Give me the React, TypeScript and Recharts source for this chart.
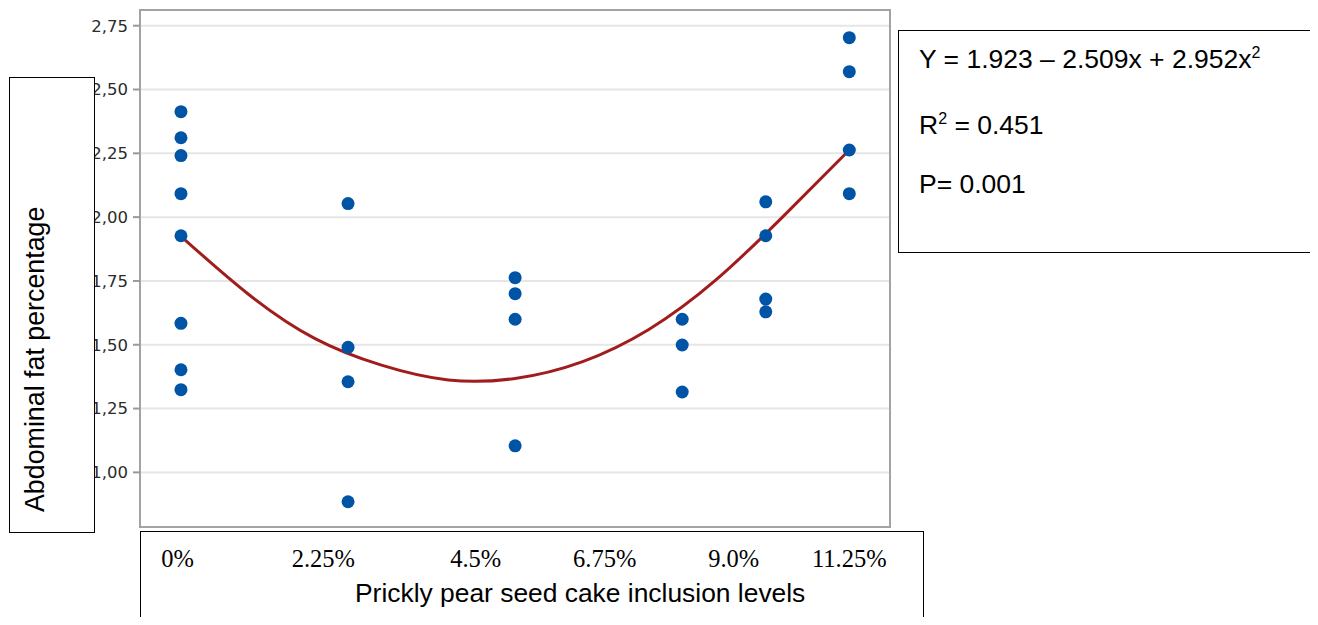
import React from "react";
import {
  ComposedChart,
  Scatter,
  Line,
  XAxis,
  YAxis,
  CartesianGrid,
  ReferenceArea,
} from "recharts";

// inclusion level positions on the original 0..1 axis
const levels = [0, 0.25, 0.5, 0.75, 0.875, 1];

// abdominal fat % per level
const fatL0 = [2.413, 2.311, 2.241, 2.092, 1.927, 1.584, 1.402, 1.324];
const fatL1 = [2.053, 1.49, 1.355, 0.885];
const fatL2 = [1.763, 1.7, 1.6, 1.104];
const fatL3 = [1.6, 1.499, 1.315];
const fatL4 = [2.06, 1.927, 1.679, 1.629];
const fatL5 = [2.703, 2.57, 2.263, 2.092];

// fitted quadratic curve
const fitX = [0, 0.1, 0.2, 0.3, 0.4, 0.5, 0.6, 0.7, 0.8, 0.9, 1];
const fitY = [1.925, 1.7, 1.525, 1.42, 1.362, 1.368, 1.433, 1.56, 1.753, 2.0, 2.263];

const yTicks = [1, 1.25, 1.5, 1.75, 2, 2.25, 2.5, 2.75];
const gridX = [0, 0.2, 0.4, 0.6, 0.8, 1];
const levelLabels = ["0%", "2.25%", "4.5%", "6.75%", "9.0%", "11.25%"];
const levelLabelAt = [-0.005, 0.213, 0.441, 0.634, 0.827, 1.0];

const xDomain = [-0.0613, 1.0609];
const yDomain = [0.786, 2.8115];

const points = [fatL0, fatL1, fatL2, fatL3, fatL4, fatL5].flatMap((vals, i) =>
  vals.map((v) => ({ x: levels[i], y: v }))
);
const curve = fitX.map((x, i) => ({ x, y: fitY[i] }));

const arial = "'Liberation Sans', Arial, sans-serif";

const Dot = (p: any) => <circle cx={p.cx} cy={p.cy} r={6.5} fill="#0054a6" />;

export default function App() {
  return (
    <div
      style={{
        position: "relative",
        margin: -8,
        width: 1318,
        height: 625,
        overflow: "hidden",
        background: "#fff",
      }}
    >
      <ComposedChart
        width={1318}
        height={617}
        margin={{ top: 10, right: 428, left: 80, bottom: 6 }}
      >
        <CartesianGrid stroke="#e6e6e6" strokeWidth={2} />
        <XAxis
          type="number"
          dataKey="x"
          domain={xDomain}
          allowDataOverflow
          ticks={gridX}
          height={4}
          tick={false}
          tickSize={4}
          tickLine={{ stroke: "#bbbbbb", strokeWidth: 2 }}
          axisLine={false}
        />
        <XAxis
          xAxisId="lbl"
          type="number"
          dataKey="x"
          domain={xDomain}
          allowDataOverflow
          ticks={levelLabelAt}
          interval={0}
          height={80}
          tickLine={false}
          axisLine={false}
          tickSize={0}
          tickMargin={19}
          tickFormatter={(v: number) => levelLabels[levelLabelAt.indexOf(v)] ?? ""}
          tick={{
            fill: "#000",
            fontSize: 24.5,
            fontFamily: "'Liberation Serif', 'Times New Roman', serif",
          }}
        />
        <YAxis
          type="number"
          domain={yDomain}
          allowDataOverflow
          ticks={yTicks}
          width={60}
          axisLine={false}
          tickSize={7}
          tickMargin={5}
          tickLine={{ stroke: "#9a9a9a", strokeWidth: 2 }}
          tickFormatter={(v: number) => v.toFixed(2).replace(".", ",")}
          tick={{ fill: "#2b2b2b", fontSize: 16.5, fontFamily: "'DejaVu Sans', sans-serif" }}
        />
        <ReferenceArea
          x1={xDomain[0]}
          x2={xDomain[1]}
          y1={yDomain[0]}
          y2={yDomain[1]}
          fill="none"
          fillOpacity={0}
          stroke="#a3a3a3"
          strokeWidth={2}
          ifOverflow="visible"
        />
        <Line
          data={curve}
          dataKey="y"
          type="natural"
          dot={false}
          stroke="#a11d1d"
          strokeWidth={3}
          isAnimationActive={false}
        />
        <Scatter data={points} dataKey="y" shape={Dot} isAnimationActive={false} />
      </ComposedChart>

      {/* y-axis title box */}
      <div
        style={{
          position: "absolute",
          left: 9,
          top: 77,
          width: 84,
          height: 454,
          border: "1px solid #000",
          background: "#fff",
        }}
      />
      <div
        style={{
          position: "absolute",
          left: 20,
          top: 512,
          transform: "rotate(-90deg)",
          transformOrigin: "left top",
          whiteSpace: "nowrap",
          fontFamily: arial,
          fontSize: 26.8,
          lineHeight: "30px",
          color: "#000",
        }}
      >
        Abdominal fat percentage
      </div>

      {/* x-axis title box */}
      <div
        style={{
          position: "absolute",
          left: 140,
          top: 531,
          width: 782,
          height: 120,
          border: "1px solid #000",
        }}
      />
      <div
        style={{
          position: "absolute",
          left: 355,
          top: 580,
          whiteSpace: "nowrap",
          fontFamily: arial,
          fontSize: 26.4,
          lineHeight: "26px",
          color: "#000",
        }}
      >
        Prickly pear seed cake inclusion levels
      </div>

      {/* regression box */}
      <div
        style={{
          position: "absolute",
          left: 898,
          top: 30,
          width: 413,
          height: 221,
          border: "1px solid #000",
          background: "#fff",
        }}
      />
      {[
        { top: 40, body: <>Y = 1.923 – 2.509x + 2.952x<sup style={{ fontSize: 16, verticalAlign: 10 }}>2</sup></> },
        { top: 106, body: <>R<sup style={{ fontSize: 16, verticalAlign: 10 }}>2</sup> = 0.451</> },
        { top: 171, body: <>P= 0.001</> },
      ].map((l, i) => (
        <div
          key={i}
          style={{
            position: "absolute",
            left: 919,
            top: l.top,
            whiteSpace: "nowrap",
            fontFamily: arial,
            fontSize: 26.5,
            lineHeight: "26px",
            color: "#000",
          }}
        >
          {l.body}
        </div>
      ))}
    </div>
  );
}
